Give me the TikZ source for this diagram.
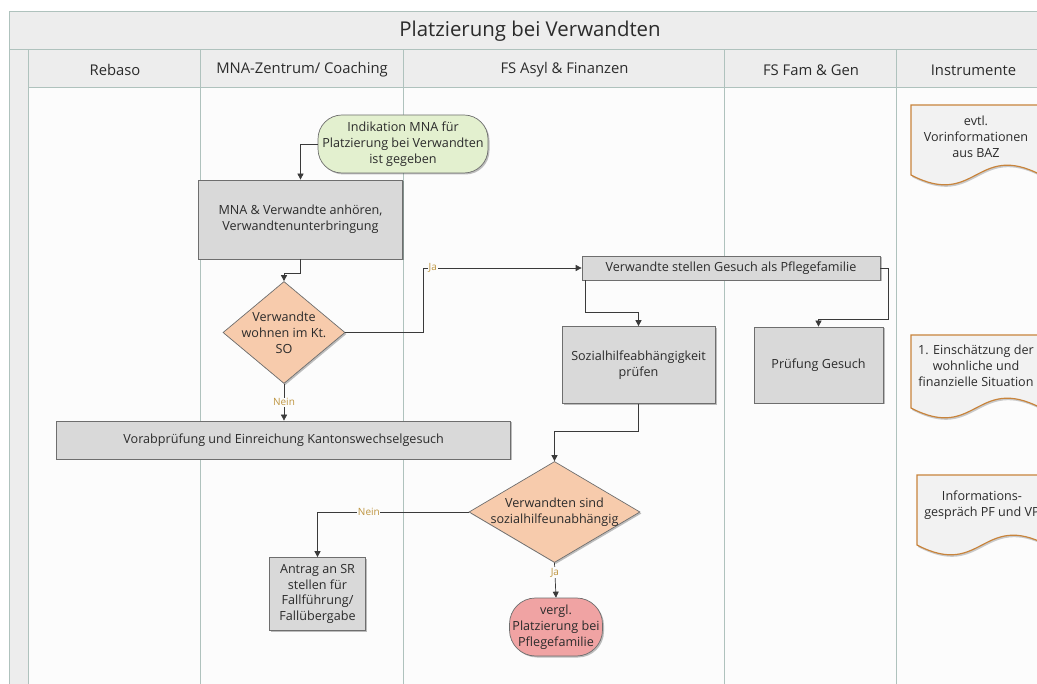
\documentclass[tikz,border=0pt]{standalone}
\usepackage{fontspec}
\setmainfont{Open Sans}
\usetikzlibrary{shapes.geometric,shadows,arrows.meta,calc}
\definecolor{laneline}{HTML}{AFC2BD}
\definecolor{headbg}{HTML}{EDEDED}
\definecolor{bodybg}{HTML}{FCFCFC}
\definecolor{boxfill}{HTML}{D9D9D9}
\definecolor{boxline}{HTML}{6E6E6E}
\definecolor{startfill}{HTML}{E3F0CF}
\definecolor{endfill}{HTML}{F0A3A3}
\definecolor{decfill}{HTML}{F7CBAC}
\definecolor{docline}{HTML}{C8843C}
\definecolor{docfill}{HTML}{F2F2F2}
\definecolor{lblcol}{HTML}{BE9540}
\definecolor{txt}{HTML}{2B2B2B}
\definecolor{edgecol}{HTML}{3A3A3A}
\begin{document}
\begin{tikzpicture}[x=1pt,y=-1pt,
  every node/.style={text=txt,font=\fontsize{12.6}{15.8}\selectfont,align=center},
  shade/.style={drop shadow={shadow xshift=1.5pt,shadow yshift=-1.5pt,opacity=0.25,fill=black}},
  procbox/.style={draw=boxline,fill=boxfill,line width=0.7pt,inner sep=0pt,shade},
  termstart/.style={draw=boxline,fill=startfill,line width=0.7pt,rounded corners=24pt,inner sep=0pt,shade},
  termend/.style={draw=boxline,fill=endfill,line width=0.7pt,rounded corners=24pt,inner sep=0pt,shade},
  decision/.style={diamond,draw=boxline,fill=decfill,line width=0.7pt,inner sep=0pt,shade},
  dectext/.style={label={[align=center,text=txt,font=\fontsize{12.6}{15.8}\selectfont]center:#1}},
  doctext/.style={inner sep=0pt,minimum width=130pt},
  docshape/.style={draw=docline,fill=docfill,line width=1.2pt,drop shadow={shadow xshift=1pt,shadow yshift=-2pt,opacity=0.2,fill=black}},
  arr/.style={draw=edgecol,line width=0.7pt,-{Triangle[length=6pt,width=6pt]}},
  lbl/.style={text=lblcol,font=\fontsize{10}{11}\selectfont,fill=bodybg,inner sep=0.6pt},
  lane/.style={draw=laneline,line width=1pt},
  headtxt/.style={font=\fontsize{14.8}{17}\selectfont}
]
\clip (0,0) rectangle (1037,684);
\fill[white] (0,0) rectangle (1037,684);

% pool frame, title band, lane headers
\fill[bodybg] (9.5,88) rectangle (1080,700);
\fill[headbg] (9.5,12) rectangle (1080,88);
\fill[headbg] (9.5,88) rectangle (28.5,700);
\draw[lane] (1080,12) -- (9.5,12) -- (9.5,700);
\draw[lane] (9.5,50) -- (1080,50);
\draw[lane] (28.5,88) -- (1080,88);
\foreach \lx in {28.5,200.5,403.5,724.5,896.5}
  \draw[lane] (\lx,50) -- (\lx,700);

\node[font=\fontsize{20.4}{23}\selectfont] (title) at (530,31) {Platzierung bei Verwandten};
\node[headtxt] (hRebaso) at (115,70) {Rebaso};
\node[headtxt] (hMNA) at (302,70) {MNA-Zentrum/ Coaching};
\node[headtxt] (hAsyl) at (564.5,70) {FS Asyl \& Finanzen};
\node[headtxt] (hFam) at (811,70) {FS Fam \& Gen};
\node[headtxt] (hInst) at (973.5,70) {Instrumente};

% process nodes
\node[termstart,minimum width=170pt,minimum height=58pt] (start) at (403,144)
  {Indikation MNA für\\Platzierung bei Verwandten\\ist gegeben};
\node[procbox,minimum width=204pt,minimum height=79pt] (hear) at (300.5,219.5)
  {MNA \& Verwandte anhören,\\Verwandtenunterbringung};
\node[decision,minimum width=122pt,minimum height=102pt,
  dectext={Verwandte\\wohnen im Kt.\\SO}] (live) at (284,332.5) {};
\node[procbox,minimum width=298pt,minimum height=24pt] (gesuch) at (731,268)
  {Verwandte stellen Gesuch als Pflegefamilie};
\node[procbox,minimum width=153pt,minimum height=77pt] (sozial) at (638.5,365)
  {Sozialhilfeabhängigkeit\\prüfen};
\node[procbox,minimum width=129pt,minimum height=76pt] (pruef) at (818.5,365)
  {Prüfung Gesuch};
\node[procbox,minimum width=454pt,minimum height=38pt] (vorab) at (283.7,440)
  {Vorabprüfung und Einreichung Kantonswechselgesuch};
\node[decision,minimum width=171pt,minimum height=101pt,
  dectext={Verwandten sind\\sozialhilfeunabhängig}] (unab) at (554.5,512) {};
\node[procbox,minimum width=96pt,minimum height=73pt] (antrag) at (317.5,594)
  {Antrag an SR\\stellen für\\Fallführung/\\Fallübergabe};
\node[termend,minimum width=93pt,minimum height=58pt,rounded corners=26pt] (pflege) at (556,627)
  {vergl.\\Platzierung bei\\Pflegefamilie};

% documents in the Instrumente lane
\newcommand{\docpath}[3]{% left x, top y, wave base y
  \path[docshape] (#1,#2) -- ++(130,0) -- (#1+130,#3)
    .. controls (#1+65,#3-34) and (#1+65,#3+34) .. (#1,#3) -- cycle;}
\docpath{911}{105}{175}
\node[doctext] (docBAZ) at (976,137) {evtl.\\Vorinformationen\\aus BAZ};
\docpath{911}{335}{408}
\node[doctext] (docEin) at (976,366) {1. Einschätzung der\\wohnliche und\\finanzielle Situation};
\docpath{917}{475}{545}
\node[doctext] (docInfo) at (982,505.5) {Informations-\\gespräch PF und VP};

% connectors
\draw[arr] (start.west) -| (hear.north);
\draw[arr] (hear.south) -- ++(0,14) -| (live.north);
\draw[arr] (live.east) -- ++(78,0) |- (gesuch.west)
  node[lbl,pos=0.53] {Ja};
\draw[arr] ([xshift=4pt]gesuch.south west) -- ++(0,32) -| (sozial.north);
\draw[arr] (gesuch.east) -- ++(8,0) -- ++(0,51) -| (pruef.north);
\draw[arr] (live.south) -- (live.south |- vorab.north)
  node[lbl,pos=0.5] {Nein};
\draw[arr] (sozial.south) -- ++(0,28) -| (unab.north);
\draw[arr] (unab.west) -| (antrag.north)
  node[lbl,pos=0.33] {Nein};
\draw[arr] (unab.south) -- (pflege.north)
  node[lbl,pos=0.28] {Ja};
\end{tikzpicture}
\end{document}
